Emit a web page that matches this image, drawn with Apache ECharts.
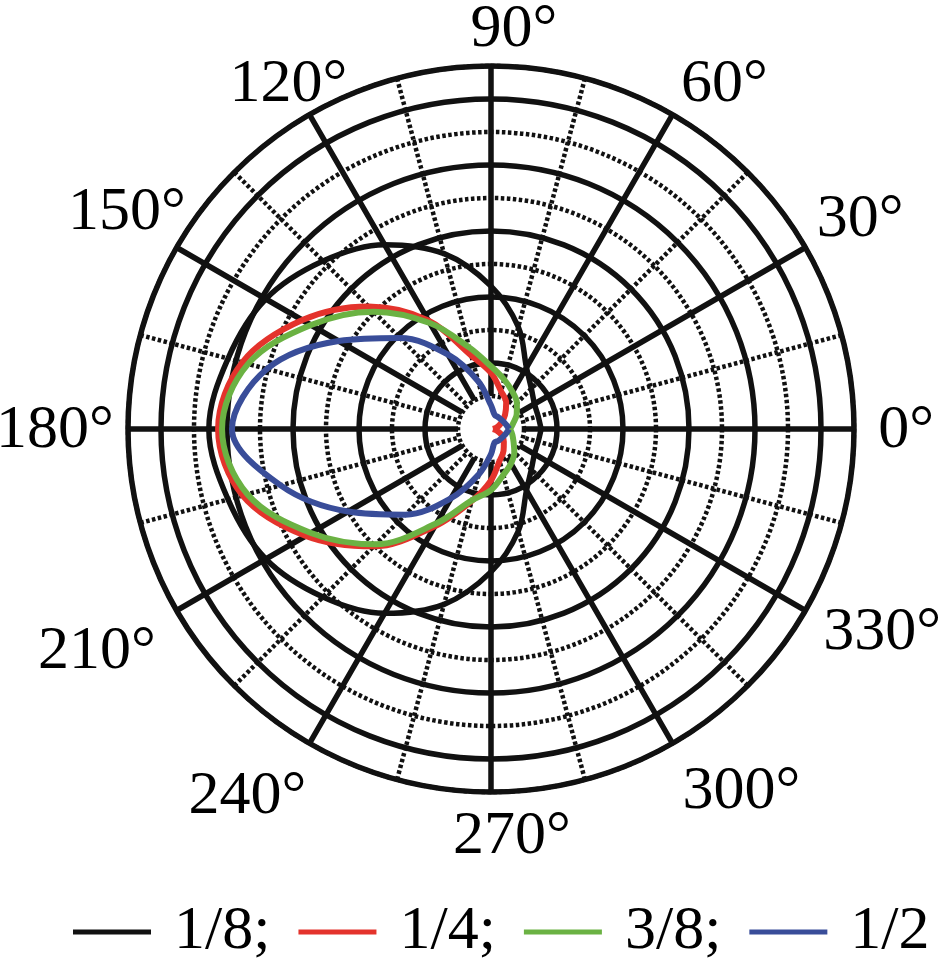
<!DOCTYPE html>
<html><head><meta charset="utf-8">
<script src="https://cdn.jsdelivr.net/npm/echarts@6/dist/echarts.min.js"></script>
<style>html,body{margin:0;padding:0;background:#fff}#c{width:939px;height:960px}</style>
</head><body><div id="c"></div>
<script>
const angles = [0,15,30,45,60,75,90,105,120,135,150,165,180,195,210,225,240,255,270,285,300,315,330,345,360];
// Radius values (grid units; one ring step = 1 unit, outer ring = 11)
const r_1_8 = [1.52,1.48,1.52,1.73,2.15,3.2,4.33,5.5,6.45,7.2,7.88,8.25,8.55,8.25,7.88,7.2,6.45,5.5,4.33,3.2,2.15,1.73,1.52,1.48,1.52];
const r_1_4 = [0.06,0.18,0.35,0.6,0.92,1.18,1.7,2.3,3.8,5.25,6.6,7.8,8.27,7.79,6.48,5.03,3.4,2.26,1.56,1.0,0.76,0.55,0.38,0.18,0.06];
const r_3_8 = [0.58,0.7,0.9,1.11,1.3,1.55,1.9,2.56,3.71,5.03,6.3,7.62,8.15,7.64,6.3,4.94,3.3,2.24,1.85,1.44,1.21,1.0,0.79,0.67,0.58];
const r_1_2 = [0.55,0.48,0.44,0.42,0.42,0.44,0.72,1.5,2.6,3.9,5.33,7.03,7.85,6.6,5.0,3.67,2.42,1.42,0.76,0.42,0.42,0.42,0.44,0.48,0.55];
const seriesNames = ['1/8;','1/4;','3/8;','1/2'];
const angleTicks = [0,30,60,90,120,150,180,210,240,270,300,330];

// ---- styling ----
const seriesColors = ['#111111','#e4332c','#6bb243','#394d99'];
const FONT = "'Liberation Serif','Times New Roman',serif";
const INK = '#111111';
const center = [491, 429];
const LABEL_R = 12.88;                 // radius (in axis units) where angle labels sit
const labelNudge = [[-10,2],[1,3],[21,24],[23,26],[10,24],[4,-4],[-11,2],[-26,10],[-31,0],[21,-17],[38,-5],[23,-9]];

const chart = echarts.init(document.getElementById('c'), null, {renderer:'canvas'});

const allR = [r_1_8, r_1_4, r_3_8, r_1_2];
const series = allR.map((arr, i) => ({
  name: seriesNames[i],
  type: 'line',
  coordinateSystem: 'polar',
  polarIndex: 2,
  showSymbol: false,
  smooth: 0.35,
  clip: false,
  z: 5 + i,
  lineStyle: {color: seriesColors[i], width: i === 0 ? 5.5 : 6, opacity: 1},
  itemStyle: {color: seriesColors[i]},
  data: arr.map((r, k) => [r, angles[k]])
}));

// angle labels (0°, 30°, ...) placed through the polar coordinate system
series.push({
  name: 'angleLabels',
  type: 'scatter',
  coordinateSystem: 'polar',
  polarIndex: 2,
  symbolSize: 1,
  silent: true,
  clip: false,
  itemStyle: {color: 'rgba(0,0,0,0)', opacity: 1},
  label: {show: true, position: 'inside', align: 'center', verticalAlign: 'middle',
    fontFamily: FONT, fontSize: 62, color: '#000', opacity: 1,
    formatter: p => p.value[1] + '°'},
  data: angleTicks.map((a, i) => ({value: [LABEL_R, a], label: {offset: labelNudge[i]}}))
});

const hidden = {axisLine:{show:false}, axisTick:{show:false}, axisLabel:{show:false}};

chart.setOption({
  animation: false,
  backgroundColor: '#fff',
  polar: [
    {center: center, radius: [33, 363]},
    {center: center, radius: [33, 363]},
    {center: center, radius: [0, 363]}
  ],
  radiusAxis: [
    Object.assign({polarIndex:0, type:'value', min:1, max:11, interval:1,
      splitLine:{show:true, lineStyle:{color:['rgba(0,0,0,0)', INK], width:5.5, type:'solid'}}}, hidden),
    Object.assign({polarIndex:1, type:'value', min:1, max:11, interval:2,
      splitLine:{show:true, lineStyle:{color:INK, width:4.5, type:[3.5,2.5]}}}, hidden),
    Object.assign({polarIndex:2, type:'value', min:0, max:11, splitLine:{show:false}}, hidden)
  ],
  angleAxis: [
    Object.assign({polarIndex:0, type:'value', min:0, max:360, interval:30, startAngle:0, clockwise:false,
      splitLine:{show:true, lineStyle:{color:INK, width:5.5}}}, hidden),
    Object.assign({polarIndex:1, type:'value', min:0, max:360, interval:30, startAngle:15, clockwise:false,
      splitLine:{show:true, lineStyle:{color:INK, width:4.5, type:[3.5,2.5]}}}, hidden),
    {polarIndex:2, type:'value', min:0, max:360, interval:30, startAngle:0, clockwise:false,
      axisLine:{show:true, lineStyle:{color:INK, width:5.5}},
      axisTick:{show:false}, splitLine:{show:false}, axisLabel:{show:false}}
  ],
  legend: {
    top: 896, left: 68,
    icon: 'rect', itemWidth: 78, itemHeight: 5, itemGap: 28,
    textStyle: {fontFamily: FONT, fontSize: 62, color: '#000', padding: [0,0,0,18]},
    data: seriesNames
  },
  series: series
});
</script></body></html>
